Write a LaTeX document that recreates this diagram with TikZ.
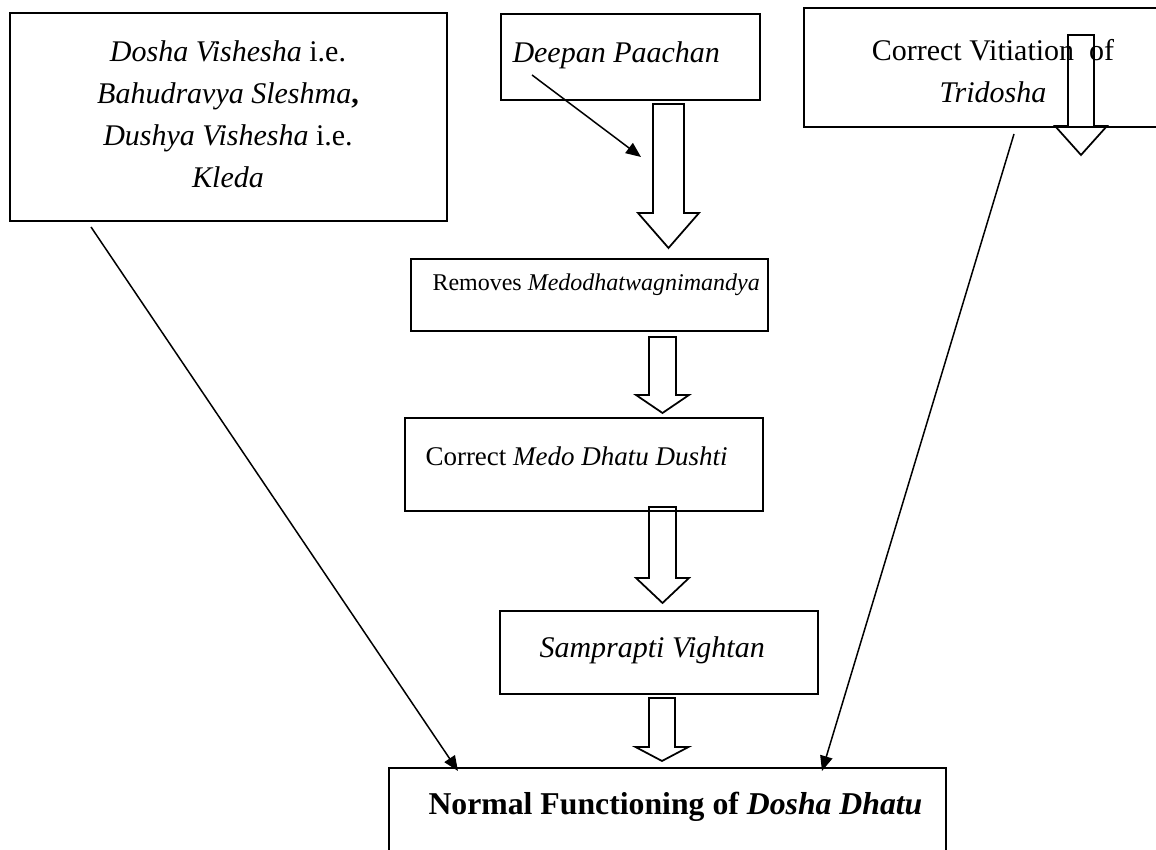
\documentclass[tikz,border=0pt]{standalone}
\usepackage{fontspec}
\setmainfont{Liberation Serif}
\usetikzlibrary{arrows.meta}
\tikzset{
  box/.style={draw, line width=0.7pt, inner sep=0pt, anchor=north west},
  txt/.style={inner sep=0pt, font=\fontsize{12pt}{16.8pt}\selectfont},
  small/.style={font=\fontsize{9.6pt}{12pt}\selectfont},
  thinarr/.style={line width=0.6pt, -{Triangle[length=6pt,width=5pt]}},
  blockarr/.style={line width=0.7pt, line join=miter},
}

\begin{document}
\begin{tikzpicture}[x=0.4pt,y=-0.4pt]
    \useasboundingbox (0,0) rectangle (1156,850);
    \clip (0,0) rectangle (1156,850);

    % Draw boxes
    \node[box, minimum width=174.8pt, minimum height=83.2pt] (dosha) at (9,12) {};
    \node[box, minimum width=103.6pt, minimum height=34.4pt] (deepan) at (500,13) {};
    \node[box, minimum width=146.8pt, minimum height=47.6pt] (tridosha) at (803,7) {};
    \node[box, minimum width=142.8pt, minimum height=28.8pt] (removes) at (410,258) {};
    \node[box, minimum width=143.2pt, minimum height=37.2pt] (medo) at (404,417) {};
    \node[box, minimum width=127.2pt, minimum height=33.2pt] (samprapti) at (499,610) {};
    \node[box, minimum width=222.8pt, minimum height=49.2pt] (normal) at (388,767) {};

    % Texts in the boxes
    \node[txt, align=center, anchor=north] (doshatext) at (228,40)
      {\textit{Dosha Vishesha} i.e.\\ \textit{Bahudravya Sleshma}\textbf{,}\\ \textit{Dushya Vishesha} i.e.\\ \textit{Kleda}};
    \node[txt, anchor=base west] (deepantext) at (512,63) {\textit{Deepan Paachan}};
    \node[txt, align=center, anchor=north] (tridoshatext) at (993,39)
      {Correct Vitiation \ of\\ \textit{Tridosha}};
    \node[txt, small, anchor=base west] (removestext) at (432,291) {Removes \textit{Medodhatwagnimandya}};
    \node[txt, font=\fontsize{10.8pt}{12pt}\selectfont, anchor=base west] (medotext) at (425,466) {Correct \textit{Medo Dhatu Dushti}};
    \node[txt, anchor=base west] (sampraptitext) at (539,658) {\textit{Samprapti Vightan}};
    \node[txt, anchor=base west, font=\fontsize{12.7pt}{16pt}\selectfont] (normaltext) at (428,815)
      {\textbf{Normal Functioning of \textit{Dosha Dhatu}}};

    % Block arrows: centre / half shaft / top / shaft end / half head / tip
    \foreach \cx/\hw/\top/\bot/\hh/\tip in {668.5/15.5/104/213/30.5/248, 1081/13/35/126/26/155,
        662.5/13.5/337/395/26.5/413, 662.5/13.5/507/578/26.5/603, 662/13/698/747/26.5/761} {
      \draw[blockarr] (\cx-\hw,\top) -- (\cx+\hw,\top) -- (\cx+\hw,\bot) -- (\cx+\hh,\bot)
        -- (\cx,\tip) -- (\cx-\hh,\bot) -- (\cx-\hw,\bot) -- cycle;
    }

    % Thin arrows
    \coordinate (deepanfoot) at (532,75);
    \coordinate (deepanhead) at (641,157);
    \coordinate (doshafoot) at (91,227);
    \coordinate (normalleft) at (458,771);
    \coordinate (tridoshafoot) at (1014,134);
    \coordinate (normalright) at (822,771);
    \draw[thinarr] (deepanfoot) -- (deepanhead);
    \draw[thinarr] (doshafoot) -- (normalleft);
    \draw[thinarr] (tridoshafoot) -- (normalright);
\end{tikzpicture}
\end{document}
